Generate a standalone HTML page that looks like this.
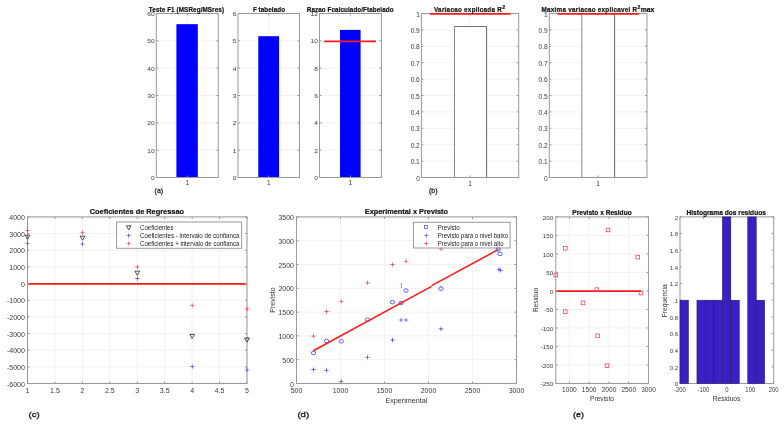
<!DOCTYPE html><html><head><meta charset="utf-8"><style>html,body{margin:0;padding:0;background:#fff;width:784px;height:425px;overflow:hidden}svg{display:block;filter:blur(0.25px)}</style></head><body>
<svg width="784" height="425" viewBox="0 0 784 425" font-family="Liberation Sans">
<rect width="784" height="425" fill="#fff"/>
<line x1="156.3" y1="177.5" x2="218.3" y2="177.5" stroke="#f2f2f2" stroke-width="1" />
<line x1="156.3" y1="150.17" x2="218.3" y2="150.17" stroke="#f2f2f2" stroke-width="1" />
<line x1="156.3" y1="122.83" x2="218.3" y2="122.83" stroke="#f2f2f2" stroke-width="1" />
<line x1="156.3" y1="95.5" x2="218.3" y2="95.5" stroke="#f2f2f2" stroke-width="1" />
<line x1="156.3" y1="68.17" x2="218.3" y2="68.17" stroke="#f2f2f2" stroke-width="1" />
<line x1="156.3" y1="40.83" x2="218.3" y2="40.83" stroke="#f2f2f2" stroke-width="1" />
<line x1="156.3" y1="13.5" x2="218.3" y2="13.5" stroke="#f2f2f2" stroke-width="1" />
<line x1="187.3" y1="13.5" x2="187.3" y2="177.5" stroke="#f2f2f2" stroke-width="1" />
<rect x="176.4" y="24.16" width="21.4" height="153.34" fill="#0000ff" stroke="none" stroke-width="1" />
<line x1="156.3" y1="177.5" x2="158.3" y2="177.5" stroke="#999999" stroke-width="1" />
<line x1="218.3" y1="177.5" x2="216.3" y2="177.5" stroke="#999999" stroke-width="1" />
<line x1="156.3" y1="150.17" x2="158.3" y2="150.17" stroke="#999999" stroke-width="1" />
<line x1="218.3" y1="150.17" x2="216.3" y2="150.17" stroke="#999999" stroke-width="1" />
<line x1="156.3" y1="122.83" x2="158.3" y2="122.83" stroke="#999999" stroke-width="1" />
<line x1="218.3" y1="122.83" x2="216.3" y2="122.83" stroke="#999999" stroke-width="1" />
<line x1="156.3" y1="95.5" x2="158.3" y2="95.5" stroke="#999999" stroke-width="1" />
<line x1="218.3" y1="95.5" x2="216.3" y2="95.5" stroke="#999999" stroke-width="1" />
<line x1="156.3" y1="68.17" x2="158.3" y2="68.17" stroke="#999999" stroke-width="1" />
<line x1="218.3" y1="68.17" x2="216.3" y2="68.17" stroke="#999999" stroke-width="1" />
<line x1="156.3" y1="40.83" x2="158.3" y2="40.83" stroke="#999999" stroke-width="1" />
<line x1="218.3" y1="40.83" x2="216.3" y2="40.83" stroke="#999999" stroke-width="1" />
<line x1="156.3" y1="13.5" x2="158.3" y2="13.5" stroke="#999999" stroke-width="1" />
<line x1="218.3" y1="13.5" x2="216.3" y2="13.5" stroke="#999999" stroke-width="1" />
<line x1="187.3" y1="177.5" x2="187.3" y2="175.5" stroke="#999999" stroke-width="1" />
<line x1="187.3" y1="13.5" x2="187.3" y2="15.5" stroke="#999999" stroke-width="1" />
<rect x="156.3" y="13.5" width="62" height="164" fill="none" stroke="#999999" stroke-width="1" />
<text x="154.7" y="180.1" font-size="5.9" text-anchor="end" font-weight="normal" fill="#3a3a3a" font-family="Liberation Sans" textLength="3.67" lengthAdjust="spacingAndGlyphs">0</text>
<text x="154.7" y="152.77" font-size="5.9" text-anchor="end" font-weight="normal" fill="#3a3a3a" font-family="Liberation Sans" textLength="7.34" lengthAdjust="spacingAndGlyphs">10</text>
<text x="154.7" y="125.43" font-size="5.9" text-anchor="end" font-weight="normal" fill="#3a3a3a" font-family="Liberation Sans" textLength="7.34" lengthAdjust="spacingAndGlyphs">20</text>
<text x="154.7" y="98.1" font-size="5.9" text-anchor="end" font-weight="normal" fill="#3a3a3a" font-family="Liberation Sans" textLength="7.34" lengthAdjust="spacingAndGlyphs">30</text>
<text x="154.7" y="70.77" font-size="5.9" text-anchor="end" font-weight="normal" fill="#3a3a3a" font-family="Liberation Sans" textLength="7.34" lengthAdjust="spacingAndGlyphs">40</text>
<text x="154.7" y="43.43" font-size="5.9" text-anchor="end" font-weight="normal" fill="#3a3a3a" font-family="Liberation Sans" textLength="7.34" lengthAdjust="spacingAndGlyphs">50</text>
<text x="154.7" y="16.1" font-size="5.9" text-anchor="end" font-weight="normal" fill="#3a3a3a" font-family="Liberation Sans" textLength="7.34" lengthAdjust="spacingAndGlyphs">60</text>
<text x="187.3" y="185.3" font-size="6.6" text-anchor="middle" font-weight="normal" fill="#3a3a3a" font-family="Liberation Sans" >1</text>
<text x="186.4" y="11.7" font-size="6.3" text-anchor="middle" font-weight="bold" fill="#111" font-family="Liberation Sans" textLength="75.2" lengthAdjust="spacing" stroke="#111" stroke-width="0.2">Teste F1 (MSReg/MSres)</text>
<line x1="238" y1="177.5" x2="299.5" y2="177.5" stroke="#f2f2f2" stroke-width="1" />
<line x1="238" y1="150.17" x2="299.5" y2="150.17" stroke="#f2f2f2" stroke-width="1" />
<line x1="238" y1="122.83" x2="299.5" y2="122.83" stroke="#f2f2f2" stroke-width="1" />
<line x1="238" y1="95.5" x2="299.5" y2="95.5" stroke="#f2f2f2" stroke-width="1" />
<line x1="238" y1="68.17" x2="299.5" y2="68.17" stroke="#f2f2f2" stroke-width="1" />
<line x1="238" y1="40.83" x2="299.5" y2="40.83" stroke="#f2f2f2" stroke-width="1" />
<line x1="238" y1="13.5" x2="299.5" y2="13.5" stroke="#f2f2f2" stroke-width="1" />
<line x1="268.75" y1="13.5" x2="268.75" y2="177.5" stroke="#f2f2f2" stroke-width="1" />
<rect x="258.3" y="36.19" width="20.8" height="141.31" fill="#0000ff" stroke="none" stroke-width="1" />
<line x1="238" y1="177.5" x2="240" y2="177.5" stroke="#999999" stroke-width="1" />
<line x1="299.5" y1="177.5" x2="297.5" y2="177.5" stroke="#999999" stroke-width="1" />
<line x1="238" y1="150.17" x2="240" y2="150.17" stroke="#999999" stroke-width="1" />
<line x1="299.5" y1="150.17" x2="297.5" y2="150.17" stroke="#999999" stroke-width="1" />
<line x1="238" y1="122.83" x2="240" y2="122.83" stroke="#999999" stroke-width="1" />
<line x1="299.5" y1="122.83" x2="297.5" y2="122.83" stroke="#999999" stroke-width="1" />
<line x1="238" y1="95.5" x2="240" y2="95.5" stroke="#999999" stroke-width="1" />
<line x1="299.5" y1="95.5" x2="297.5" y2="95.5" stroke="#999999" stroke-width="1" />
<line x1="238" y1="68.17" x2="240" y2="68.17" stroke="#999999" stroke-width="1" />
<line x1="299.5" y1="68.17" x2="297.5" y2="68.17" stroke="#999999" stroke-width="1" />
<line x1="238" y1="40.83" x2="240" y2="40.83" stroke="#999999" stroke-width="1" />
<line x1="299.5" y1="40.83" x2="297.5" y2="40.83" stroke="#999999" stroke-width="1" />
<line x1="238" y1="13.5" x2="240" y2="13.5" stroke="#999999" stroke-width="1" />
<line x1="299.5" y1="13.5" x2="297.5" y2="13.5" stroke="#999999" stroke-width="1" />
<line x1="268.75" y1="177.5" x2="268.75" y2="175.5" stroke="#999999" stroke-width="1" />
<line x1="268.75" y1="13.5" x2="268.75" y2="15.5" stroke="#999999" stroke-width="1" />
<rect x="238" y="13.5" width="61.5" height="164" fill="none" stroke="#999999" stroke-width="1" />
<text x="236.4" y="180.1" font-size="5.9" text-anchor="end" font-weight="normal" fill="#3a3a3a" font-family="Liberation Sans" textLength="3.67" lengthAdjust="spacingAndGlyphs">0</text>
<text x="236.4" y="152.77" font-size="5.9" text-anchor="end" font-weight="normal" fill="#3a3a3a" font-family="Liberation Sans" textLength="3.67" lengthAdjust="spacingAndGlyphs">1</text>
<text x="236.4" y="125.43" font-size="5.9" text-anchor="end" font-weight="normal" fill="#3a3a3a" font-family="Liberation Sans" textLength="3.67" lengthAdjust="spacingAndGlyphs">2</text>
<text x="236.4" y="98.1" font-size="5.9" text-anchor="end" font-weight="normal" fill="#3a3a3a" font-family="Liberation Sans" textLength="3.67" lengthAdjust="spacingAndGlyphs">3</text>
<text x="236.4" y="70.77" font-size="5.9" text-anchor="end" font-weight="normal" fill="#3a3a3a" font-family="Liberation Sans" textLength="3.67" lengthAdjust="spacingAndGlyphs">4</text>
<text x="236.4" y="43.43" font-size="5.9" text-anchor="end" font-weight="normal" fill="#3a3a3a" font-family="Liberation Sans" textLength="3.67" lengthAdjust="spacingAndGlyphs">5</text>
<text x="236.4" y="16.1" font-size="5.9" text-anchor="end" font-weight="normal" fill="#3a3a3a" font-family="Liberation Sans" textLength="3.67" lengthAdjust="spacingAndGlyphs">6</text>
<text x="268.75" y="185.3" font-size="6.6" text-anchor="middle" font-weight="normal" fill="#3a3a3a" font-family="Liberation Sans" >1</text>
<text x="268.95" y="11.7" font-size="6.3" text-anchor="middle" font-weight="bold" fill="#111" font-family="Liberation Sans" textLength="32.1" lengthAdjust="spacing" stroke="#111" stroke-width="0.2">F tabelado</text>
<line x1="319.5" y1="177.5" x2="381.4" y2="177.5" stroke="#f2f2f2" stroke-width="1" />
<line x1="319.5" y1="150.17" x2="381.4" y2="150.17" stroke="#f2f2f2" stroke-width="1" />
<line x1="319.5" y1="122.83" x2="381.4" y2="122.83" stroke="#f2f2f2" stroke-width="1" />
<line x1="319.5" y1="95.5" x2="381.4" y2="95.5" stroke="#f2f2f2" stroke-width="1" />
<line x1="319.5" y1="68.17" x2="381.4" y2="68.17" stroke="#f2f2f2" stroke-width="1" />
<line x1="319.5" y1="40.83" x2="381.4" y2="40.83" stroke="#f2f2f2" stroke-width="1" />
<line x1="319.5" y1="13.5" x2="381.4" y2="13.5" stroke="#f2f2f2" stroke-width="1" />
<line x1="350.45" y1="13.5" x2="350.45" y2="177.5" stroke="#f2f2f2" stroke-width="1" />
<rect x="340" y="29.9" width="20.6" height="147.6" fill="#0000ff" stroke="none" stroke-width="1" />
<line x1="319.5" y1="177.5" x2="321.5" y2="177.5" stroke="#999999" stroke-width="1" />
<line x1="381.4" y1="177.5" x2="379.4" y2="177.5" stroke="#999999" stroke-width="1" />
<line x1="319.5" y1="150.17" x2="321.5" y2="150.17" stroke="#999999" stroke-width="1" />
<line x1="381.4" y1="150.17" x2="379.4" y2="150.17" stroke="#999999" stroke-width="1" />
<line x1="319.5" y1="122.83" x2="321.5" y2="122.83" stroke="#999999" stroke-width="1" />
<line x1="381.4" y1="122.83" x2="379.4" y2="122.83" stroke="#999999" stroke-width="1" />
<line x1="319.5" y1="95.5" x2="321.5" y2="95.5" stroke="#999999" stroke-width="1" />
<line x1="381.4" y1="95.5" x2="379.4" y2="95.5" stroke="#999999" stroke-width="1" />
<line x1="319.5" y1="68.17" x2="321.5" y2="68.17" stroke="#999999" stroke-width="1" />
<line x1="381.4" y1="68.17" x2="379.4" y2="68.17" stroke="#999999" stroke-width="1" />
<line x1="319.5" y1="40.83" x2="321.5" y2="40.83" stroke="#999999" stroke-width="1" />
<line x1="381.4" y1="40.83" x2="379.4" y2="40.83" stroke="#999999" stroke-width="1" />
<line x1="319.5" y1="13.5" x2="321.5" y2="13.5" stroke="#999999" stroke-width="1" />
<line x1="381.4" y1="13.5" x2="379.4" y2="13.5" stroke="#999999" stroke-width="1" />
<line x1="350.45" y1="177.5" x2="350.45" y2="175.5" stroke="#999999" stroke-width="1" />
<line x1="350.45" y1="13.5" x2="350.45" y2="15.5" stroke="#999999" stroke-width="1" />
<rect x="319.5" y="13.5" width="61.9" height="164" fill="none" stroke="#999999" stroke-width="1" />
<line x1="324.2" y1="41.33" x2="375.9" y2="41.33" stroke="#ff1a1a" stroke-width="1.8" />
<text x="317.9" y="180.1" font-size="5.9" text-anchor="end" font-weight="normal" fill="#3a3a3a" font-family="Liberation Sans" textLength="3.67" lengthAdjust="spacingAndGlyphs">0</text>
<text x="317.9" y="152.77" font-size="5.9" text-anchor="end" font-weight="normal" fill="#3a3a3a" font-family="Liberation Sans" textLength="3.67" lengthAdjust="spacingAndGlyphs">2</text>
<text x="317.9" y="125.43" font-size="5.9" text-anchor="end" font-weight="normal" fill="#3a3a3a" font-family="Liberation Sans" textLength="3.67" lengthAdjust="spacingAndGlyphs">4</text>
<text x="317.9" y="98.1" font-size="5.9" text-anchor="end" font-weight="normal" fill="#3a3a3a" font-family="Liberation Sans" textLength="3.67" lengthAdjust="spacingAndGlyphs">6</text>
<text x="317.9" y="70.77" font-size="5.9" text-anchor="end" font-weight="normal" fill="#3a3a3a" font-family="Liberation Sans" textLength="3.67" lengthAdjust="spacingAndGlyphs">8</text>
<text x="317.9" y="43.43" font-size="5.9" text-anchor="end" font-weight="normal" fill="#3a3a3a" font-family="Liberation Sans" textLength="7.34" lengthAdjust="spacingAndGlyphs">10</text>
<text x="317.9" y="16.1" font-size="5.9" text-anchor="end" font-weight="normal" fill="#3a3a3a" font-family="Liberation Sans" textLength="7.34" lengthAdjust="spacingAndGlyphs">12</text>
<text x="350.45" y="185.3" font-size="6.6" text-anchor="middle" font-weight="normal" fill="#3a3a3a" font-family="Liberation Sans" >1</text>
<text x="350.15" y="11.7" font-size="6.3" text-anchor="middle" font-weight="bold" fill="#111" font-family="Liberation Sans" textLength="86.7" lengthAdjust="spacing" stroke="#111" stroke-width="0.2">Razao Fcalculado/Ftabelado</text>
<text x="158.9" y="193" font-size="7" text-anchor="middle" font-weight="normal" fill="#222" font-family="Liberation Sans" stroke="#222" stroke-width="0.25">(a)</text>
<line x1="421.4" y1="177.5" x2="518.7" y2="177.5" stroke="#f2f2f2" stroke-width="1" />
<line x1="421.4" y1="161.1" x2="518.7" y2="161.1" stroke="#f2f2f2" stroke-width="1" />
<line x1="421.4" y1="144.7" x2="518.7" y2="144.7" stroke="#f2f2f2" stroke-width="1" />
<line x1="421.4" y1="128.3" x2="518.7" y2="128.3" stroke="#f2f2f2" stroke-width="1" />
<line x1="421.4" y1="111.9" x2="518.7" y2="111.9" stroke="#f2f2f2" stroke-width="1" />
<line x1="421.4" y1="95.5" x2="518.7" y2="95.5" stroke="#f2f2f2" stroke-width="1" />
<line x1="421.4" y1="79.1" x2="518.7" y2="79.1" stroke="#f2f2f2" stroke-width="1" />
<line x1="421.4" y1="62.7" x2="518.7" y2="62.7" stroke="#f2f2f2" stroke-width="1" />
<line x1="421.4" y1="46.3" x2="518.7" y2="46.3" stroke="#f2f2f2" stroke-width="1" />
<line x1="421.4" y1="29.9" x2="518.7" y2="29.9" stroke="#f2f2f2" stroke-width="1" />
<line x1="421.4" y1="13.5" x2="518.7" y2="13.5" stroke="#f2f2f2" stroke-width="1" />
<line x1="470.05" y1="13.5" x2="470.05" y2="177.5" stroke="#f2f2f2" stroke-width="1" />
<rect x="454.5" y="26.51" width="32.1" height="150.99" fill="#fff" stroke="none" stroke-width="1" />
<line x1="454.5" y1="26.51" x2="486.6" y2="26.51" stroke="#707070" stroke-width="1" />
<line x1="454.5" y1="26.51" x2="454.5" y2="177.5" stroke="#8a8a8a" stroke-width="1" />
<line x1="486.6" y1="26.51" x2="486.6" y2="177.5" stroke="#666" stroke-width="1" />
<line x1="421.4" y1="177.5" x2="423.4" y2="177.5" stroke="#999999" stroke-width="1" />
<line x1="518.7" y1="177.5" x2="516.7" y2="177.5" stroke="#999999" stroke-width="1" />
<line x1="421.4" y1="161.1" x2="423.4" y2="161.1" stroke="#999999" stroke-width="1" />
<line x1="518.7" y1="161.1" x2="516.7" y2="161.1" stroke="#999999" stroke-width="1" />
<line x1="421.4" y1="144.7" x2="423.4" y2="144.7" stroke="#999999" stroke-width="1" />
<line x1="518.7" y1="144.7" x2="516.7" y2="144.7" stroke="#999999" stroke-width="1" />
<line x1="421.4" y1="128.3" x2="423.4" y2="128.3" stroke="#999999" stroke-width="1" />
<line x1="518.7" y1="128.3" x2="516.7" y2="128.3" stroke="#999999" stroke-width="1" />
<line x1="421.4" y1="111.9" x2="423.4" y2="111.9" stroke="#999999" stroke-width="1" />
<line x1="518.7" y1="111.9" x2="516.7" y2="111.9" stroke="#999999" stroke-width="1" />
<line x1="421.4" y1="95.5" x2="423.4" y2="95.5" stroke="#999999" stroke-width="1" />
<line x1="518.7" y1="95.5" x2="516.7" y2="95.5" stroke="#999999" stroke-width="1" />
<line x1="421.4" y1="79.1" x2="423.4" y2="79.1" stroke="#999999" stroke-width="1" />
<line x1="518.7" y1="79.1" x2="516.7" y2="79.1" stroke="#999999" stroke-width="1" />
<line x1="421.4" y1="62.7" x2="423.4" y2="62.7" stroke="#999999" stroke-width="1" />
<line x1="518.7" y1="62.7" x2="516.7" y2="62.7" stroke="#999999" stroke-width="1" />
<line x1="421.4" y1="46.3" x2="423.4" y2="46.3" stroke="#999999" stroke-width="1" />
<line x1="518.7" y1="46.3" x2="516.7" y2="46.3" stroke="#999999" stroke-width="1" />
<line x1="421.4" y1="29.9" x2="423.4" y2="29.9" stroke="#999999" stroke-width="1" />
<line x1="518.7" y1="29.9" x2="516.7" y2="29.9" stroke="#999999" stroke-width="1" />
<line x1="421.4" y1="13.5" x2="423.4" y2="13.5" stroke="#999999" stroke-width="1" />
<line x1="518.7" y1="13.5" x2="516.7" y2="13.5" stroke="#999999" stroke-width="1" />
<line x1="470.05" y1="177.5" x2="470.05" y2="175.5" stroke="#999999" stroke-width="1" />
<line x1="470.05" y1="13.5" x2="470.05" y2="15.5" stroke="#999999" stroke-width="1" />
<rect x="421.4" y="13.5" width="97.3" height="164" fill="none" stroke="#999999" stroke-width="1" />
<line x1="429.8" y1="13.9" x2="510.5" y2="13.9" stroke="#ff1a1a" stroke-width="1.7" />
<text x="419.8" y="180.5" font-size="6.6" text-anchor="end" font-weight="normal" fill="#3a3a3a" font-family="Liberation Sans" >0</text>
<text x="419.8" y="164.1" font-size="6.6" text-anchor="end" font-weight="normal" fill="#3a3a3a" font-family="Liberation Sans" >0.1</text>
<text x="419.8" y="147.7" font-size="6.6" text-anchor="end" font-weight="normal" fill="#3a3a3a" font-family="Liberation Sans" >0.2</text>
<text x="419.8" y="131.3" font-size="6.6" text-anchor="end" font-weight="normal" fill="#3a3a3a" font-family="Liberation Sans" >0.3</text>
<text x="419.8" y="114.9" font-size="6.6" text-anchor="end" font-weight="normal" fill="#3a3a3a" font-family="Liberation Sans" >0.4</text>
<text x="419.8" y="98.5" font-size="6.6" text-anchor="end" font-weight="normal" fill="#3a3a3a" font-family="Liberation Sans" >0.5</text>
<text x="419.8" y="82.1" font-size="6.6" text-anchor="end" font-weight="normal" fill="#3a3a3a" font-family="Liberation Sans" >0.6</text>
<text x="419.8" y="65.7" font-size="6.6" text-anchor="end" font-weight="normal" fill="#3a3a3a" font-family="Liberation Sans" >0.7</text>
<text x="419.8" y="49.3" font-size="6.6" text-anchor="end" font-weight="normal" fill="#3a3a3a" font-family="Liberation Sans" >0.8</text>
<text x="419.8" y="32.9" font-size="6.6" text-anchor="end" font-weight="normal" fill="#3a3a3a" font-family="Liberation Sans" >0.9</text>
<text x="419.8" y="16.5" font-size="6.6" text-anchor="end" font-weight="normal" fill="#3a3a3a" font-family="Liberation Sans" >1</text>
<text x="470.05" y="186.2" font-size="6.6" text-anchor="middle" font-weight="normal" fill="#3a3a3a" font-family="Liberation Sans" >1</text>
<line x1="549.3" y1="177.5" x2="647" y2="177.5" stroke="#f2f2f2" stroke-width="1" />
<line x1="549.3" y1="161.1" x2="647" y2="161.1" stroke="#f2f2f2" stroke-width="1" />
<line x1="549.3" y1="144.7" x2="647" y2="144.7" stroke="#f2f2f2" stroke-width="1" />
<line x1="549.3" y1="128.3" x2="647" y2="128.3" stroke="#f2f2f2" stroke-width="1" />
<line x1="549.3" y1="111.9" x2="647" y2="111.9" stroke="#f2f2f2" stroke-width="1" />
<line x1="549.3" y1="95.5" x2="647" y2="95.5" stroke="#f2f2f2" stroke-width="1" />
<line x1="549.3" y1="79.1" x2="647" y2="79.1" stroke="#f2f2f2" stroke-width="1" />
<line x1="549.3" y1="62.7" x2="647" y2="62.7" stroke="#f2f2f2" stroke-width="1" />
<line x1="549.3" y1="46.3" x2="647" y2="46.3" stroke="#f2f2f2" stroke-width="1" />
<line x1="549.3" y1="29.9" x2="647" y2="29.9" stroke="#f2f2f2" stroke-width="1" />
<line x1="549.3" y1="13.5" x2="647" y2="13.5" stroke="#f2f2f2" stroke-width="1" />
<line x1="598.15" y1="13.5" x2="598.15" y2="177.5" stroke="#f2f2f2" stroke-width="1" />
<rect x="581.8" y="13.5" width="32.8" height="164" fill="#fff" stroke="none" stroke-width="1" />
<line x1="581.8" y1="13.5" x2="614.6" y2="13.5" stroke="#707070" stroke-width="1" />
<line x1="581.8" y1="13.5" x2="581.8" y2="177.5" stroke="#8a8a8a" stroke-width="1" />
<line x1="614.6" y1="13.5" x2="614.6" y2="177.5" stroke="#666" stroke-width="1" />
<line x1="549.3" y1="177.5" x2="551.3" y2="177.5" stroke="#999999" stroke-width="1" />
<line x1="647" y1="177.5" x2="645" y2="177.5" stroke="#999999" stroke-width="1" />
<line x1="549.3" y1="161.1" x2="551.3" y2="161.1" stroke="#999999" stroke-width="1" />
<line x1="647" y1="161.1" x2="645" y2="161.1" stroke="#999999" stroke-width="1" />
<line x1="549.3" y1="144.7" x2="551.3" y2="144.7" stroke="#999999" stroke-width="1" />
<line x1="647" y1="144.7" x2="645" y2="144.7" stroke="#999999" stroke-width="1" />
<line x1="549.3" y1="128.3" x2="551.3" y2="128.3" stroke="#999999" stroke-width="1" />
<line x1="647" y1="128.3" x2="645" y2="128.3" stroke="#999999" stroke-width="1" />
<line x1="549.3" y1="111.9" x2="551.3" y2="111.9" stroke="#999999" stroke-width="1" />
<line x1="647" y1="111.9" x2="645" y2="111.9" stroke="#999999" stroke-width="1" />
<line x1="549.3" y1="95.5" x2="551.3" y2="95.5" stroke="#999999" stroke-width="1" />
<line x1="647" y1="95.5" x2="645" y2="95.5" stroke="#999999" stroke-width="1" />
<line x1="549.3" y1="79.1" x2="551.3" y2="79.1" stroke="#999999" stroke-width="1" />
<line x1="647" y1="79.1" x2="645" y2="79.1" stroke="#999999" stroke-width="1" />
<line x1="549.3" y1="62.7" x2="551.3" y2="62.7" stroke="#999999" stroke-width="1" />
<line x1="647" y1="62.7" x2="645" y2="62.7" stroke="#999999" stroke-width="1" />
<line x1="549.3" y1="46.3" x2="551.3" y2="46.3" stroke="#999999" stroke-width="1" />
<line x1="647" y1="46.3" x2="645" y2="46.3" stroke="#999999" stroke-width="1" />
<line x1="549.3" y1="29.9" x2="551.3" y2="29.9" stroke="#999999" stroke-width="1" />
<line x1="647" y1="29.9" x2="645" y2="29.9" stroke="#999999" stroke-width="1" />
<line x1="549.3" y1="13.5" x2="551.3" y2="13.5" stroke="#999999" stroke-width="1" />
<line x1="647" y1="13.5" x2="645" y2="13.5" stroke="#999999" stroke-width="1" />
<line x1="598.15" y1="177.5" x2="598.15" y2="175.5" stroke="#999999" stroke-width="1" />
<line x1="598.15" y1="13.5" x2="598.15" y2="15.5" stroke="#999999" stroke-width="1" />
<rect x="549.3" y="13.5" width="97.7" height="164" fill="none" stroke="#999999" stroke-width="1" />
<line x1="557.4" y1="13.9" x2="638.8" y2="13.9" stroke="#ff1a1a" stroke-width="1.7" />
<text x="547.7" y="180.5" font-size="6.6" text-anchor="end" font-weight="normal" fill="#3a3a3a" font-family="Liberation Sans" >0</text>
<text x="547.7" y="164.1" font-size="6.6" text-anchor="end" font-weight="normal" fill="#3a3a3a" font-family="Liberation Sans" >0.1</text>
<text x="547.7" y="147.7" font-size="6.6" text-anchor="end" font-weight="normal" fill="#3a3a3a" font-family="Liberation Sans" >0.2</text>
<text x="547.7" y="131.3" font-size="6.6" text-anchor="end" font-weight="normal" fill="#3a3a3a" font-family="Liberation Sans" >0.3</text>
<text x="547.7" y="114.9" font-size="6.6" text-anchor="end" font-weight="normal" fill="#3a3a3a" font-family="Liberation Sans" >0.4</text>
<text x="547.7" y="98.5" font-size="6.6" text-anchor="end" font-weight="normal" fill="#3a3a3a" font-family="Liberation Sans" >0.5</text>
<text x="547.7" y="82.1" font-size="6.6" text-anchor="end" font-weight="normal" fill="#3a3a3a" font-family="Liberation Sans" >0.6</text>
<text x="547.7" y="65.7" font-size="6.6" text-anchor="end" font-weight="normal" fill="#3a3a3a" font-family="Liberation Sans" >0.7</text>
<text x="547.7" y="49.3" font-size="6.6" text-anchor="end" font-weight="normal" fill="#3a3a3a" font-family="Liberation Sans" >0.8</text>
<text x="547.7" y="32.9" font-size="6.6" text-anchor="end" font-weight="normal" fill="#3a3a3a" font-family="Liberation Sans" >0.9</text>
<text x="547.7" y="16.5" font-size="6.6" text-anchor="end" font-weight="normal" fill="#3a3a3a" font-family="Liberation Sans" >1</text>
<text x="598.15" y="186.2" font-size="6.6" text-anchor="middle" font-weight="normal" fill="#3a3a3a" font-family="Liberation Sans" >1</text>
<text x="434" y="11.7" font-size="6.3" text-anchor="start" font-weight="bold" fill="#111" font-family="Liberation Sans" textLength="67.8" lengthAdjust="spacing" stroke="#111" stroke-width="0.2">Variacao explicada R</text>
<text x="502.2" y="8.6" font-size="5.2" text-anchor="start" font-weight="bold" fill="#111" font-family="Liberation Sans"  stroke="#111" stroke-width="0.2">2</text>
<text x="541.6" y="11.7" font-size="6.3" text-anchor="start" font-weight="bold" fill="#111" font-family="Liberation Sans" textLength="95.4" lengthAdjust="spacing" stroke="#111" stroke-width="0.2">Maxima variacao explicavel R</text>
<text x="637.5" y="8.6" font-size="5.2" text-anchor="start" font-weight="bold" fill="#111" font-family="Liberation Sans"  stroke="#111" stroke-width="0.2">2</text>
<text x="640.8" y="11.7" font-size="6.3" text-anchor="start" font-weight="bold" fill="#111" font-family="Liberation Sans" textLength="13.6" lengthAdjust="spacingAndGlyphs" stroke="#111" stroke-width="0.2">max</text>
<text x="433.3" y="193.3" font-size="7" text-anchor="middle" font-weight="normal" fill="#222" font-family="Liberation Sans" stroke="#222" stroke-width="0.25">(b)</text>
<line x1="27.5" y1="383.5" x2="247" y2="383.5" stroke="#f2f2f2" stroke-width="1" />
<line x1="27.5" y1="366.84" x2="247" y2="366.84" stroke="#f2f2f2" stroke-width="1" />
<line x1="27.5" y1="350.18" x2="247" y2="350.18" stroke="#f2f2f2" stroke-width="1" />
<line x1="27.5" y1="333.52" x2="247" y2="333.52" stroke="#f2f2f2" stroke-width="1" />
<line x1="27.5" y1="316.86" x2="247" y2="316.86" stroke="#f2f2f2" stroke-width="1" />
<line x1="27.5" y1="300.2" x2="247" y2="300.2" stroke="#f2f2f2" stroke-width="1" />
<line x1="27.5" y1="283.54" x2="247" y2="283.54" stroke="#f2f2f2" stroke-width="1" />
<line x1="27.5" y1="266.88" x2="247" y2="266.88" stroke="#f2f2f2" stroke-width="1" />
<line x1="27.5" y1="250.22" x2="247" y2="250.22" stroke="#f2f2f2" stroke-width="1" />
<line x1="27.5" y1="233.56" x2="247" y2="233.56" stroke="#f2f2f2" stroke-width="1" />
<line x1="27.5" y1="216.9" x2="247" y2="216.9" stroke="#f2f2f2" stroke-width="1" />
<line x1="27.5" y1="216.9" x2="27.5" y2="383.5" stroke="#f2f2f2" stroke-width="1" />
<line x1="54.94" y1="216.9" x2="54.94" y2="383.5" stroke="#f2f2f2" stroke-width="1" />
<line x1="82.38" y1="216.9" x2="82.38" y2="383.5" stroke="#f2f2f2" stroke-width="1" />
<line x1="109.81" y1="216.9" x2="109.81" y2="383.5" stroke="#f2f2f2" stroke-width="1" />
<line x1="137.25" y1="216.9" x2="137.25" y2="383.5" stroke="#f2f2f2" stroke-width="1" />
<line x1="164.69" y1="216.9" x2="164.69" y2="383.5" stroke="#f2f2f2" stroke-width="1" />
<line x1="192.12" y1="216.9" x2="192.12" y2="383.5" stroke="#f2f2f2" stroke-width="1" />
<line x1="219.56" y1="216.9" x2="219.56" y2="383.5" stroke="#f2f2f2" stroke-width="1" />
<line x1="247" y1="216.9" x2="247" y2="383.5" stroke="#f2f2f2" stroke-width="1" />
<line x1="27.5" y1="283.8" x2="247" y2="283.8" stroke="#ff1a1a" stroke-width="1.7" />
<line x1="27.5" y1="383.5" x2="29.5" y2="383.5" stroke="#999999" stroke-width="1" />
<line x1="247" y1="383.5" x2="245" y2="383.5" stroke="#999999" stroke-width="1" />
<line x1="27.5" y1="366.84" x2="29.5" y2="366.84" stroke="#999999" stroke-width="1" />
<line x1="247" y1="366.84" x2="245" y2="366.84" stroke="#999999" stroke-width="1" />
<line x1="27.5" y1="350.18" x2="29.5" y2="350.18" stroke="#999999" stroke-width="1" />
<line x1="247" y1="350.18" x2="245" y2="350.18" stroke="#999999" stroke-width="1" />
<line x1="27.5" y1="333.52" x2="29.5" y2="333.52" stroke="#999999" stroke-width="1" />
<line x1="247" y1="333.52" x2="245" y2="333.52" stroke="#999999" stroke-width="1" />
<line x1="27.5" y1="316.86" x2="29.5" y2="316.86" stroke="#999999" stroke-width="1" />
<line x1="247" y1="316.86" x2="245" y2="316.86" stroke="#999999" stroke-width="1" />
<line x1="27.5" y1="300.2" x2="29.5" y2="300.2" stroke="#999999" stroke-width="1" />
<line x1="247" y1="300.2" x2="245" y2="300.2" stroke="#999999" stroke-width="1" />
<line x1="27.5" y1="283.54" x2="29.5" y2="283.54" stroke="#999999" stroke-width="1" />
<line x1="247" y1="283.54" x2="245" y2="283.54" stroke="#999999" stroke-width="1" />
<line x1="27.5" y1="266.88" x2="29.5" y2="266.88" stroke="#999999" stroke-width="1" />
<line x1="247" y1="266.88" x2="245" y2="266.88" stroke="#999999" stroke-width="1" />
<line x1="27.5" y1="250.22" x2="29.5" y2="250.22" stroke="#999999" stroke-width="1" />
<line x1="247" y1="250.22" x2="245" y2="250.22" stroke="#999999" stroke-width="1" />
<line x1="27.5" y1="233.56" x2="29.5" y2="233.56" stroke="#999999" stroke-width="1" />
<line x1="247" y1="233.56" x2="245" y2="233.56" stroke="#999999" stroke-width="1" />
<line x1="27.5" y1="216.9" x2="29.5" y2="216.9" stroke="#999999" stroke-width="1" />
<line x1="247" y1="216.9" x2="245" y2="216.9" stroke="#999999" stroke-width="1" />
<line x1="27.5" y1="383.5" x2="27.5" y2="381.5" stroke="#999999" stroke-width="1" />
<line x1="27.5" y1="216.9" x2="27.5" y2="218.9" stroke="#999999" stroke-width="1" />
<line x1="54.94" y1="383.5" x2="54.94" y2="381.5" stroke="#999999" stroke-width="1" />
<line x1="54.94" y1="216.9" x2="54.94" y2="218.9" stroke="#999999" stroke-width="1" />
<line x1="82.38" y1="383.5" x2="82.38" y2="381.5" stroke="#999999" stroke-width="1" />
<line x1="82.38" y1="216.9" x2="82.38" y2="218.9" stroke="#999999" stroke-width="1" />
<line x1="109.81" y1="383.5" x2="109.81" y2="381.5" stroke="#999999" stroke-width="1" />
<line x1="109.81" y1="216.9" x2="109.81" y2="218.9" stroke="#999999" stroke-width="1" />
<line x1="137.25" y1="383.5" x2="137.25" y2="381.5" stroke="#999999" stroke-width="1" />
<line x1="137.25" y1="216.9" x2="137.25" y2="218.9" stroke="#999999" stroke-width="1" />
<line x1="164.69" y1="383.5" x2="164.69" y2="381.5" stroke="#999999" stroke-width="1" />
<line x1="164.69" y1="216.9" x2="164.69" y2="218.9" stroke="#999999" stroke-width="1" />
<line x1="192.12" y1="383.5" x2="192.12" y2="381.5" stroke="#999999" stroke-width="1" />
<line x1="192.12" y1="216.9" x2="192.12" y2="218.9" stroke="#999999" stroke-width="1" />
<line x1="219.56" y1="383.5" x2="219.56" y2="381.5" stroke="#999999" stroke-width="1" />
<line x1="219.56" y1="216.9" x2="219.56" y2="218.9" stroke="#999999" stroke-width="1" />
<line x1="247" y1="383.5" x2="247" y2="381.5" stroke="#999999" stroke-width="1" />
<line x1="247" y1="216.9" x2="247" y2="218.9" stroke="#999999" stroke-width="1" />
<rect x="27.5" y="216.9" width="219.5" height="166.6" fill="none" stroke="#999999" stroke-width="1" />
<path d="M24.4 230.4L27.5 229.85L30.6 230.4L27.5 230.95ZM27.5 227.3L28.05 230.4L27.5 233.5L26.95 230.4Z" fill="#f03a5a"/>
<path d="M25.1 235.2 L29.9 235.2 L27.5 239.28 Z" fill="none" stroke="#222" stroke-width="0.8"/>
<path d="M24.4 243.3L27.5 242.75L30.6 243.3L27.5 243.85ZM27.5 240.2L28.05 243.3L27.5 246.4L26.95 243.3Z" fill="#4040f0"/>
<path d="M79.4 232.7L82.5 232.15L85.6 232.7L82.5 233.25ZM82.5 229.6L83.05 232.7L82.5 235.8L81.95 232.7Z" fill="#f03a5a"/>
<path d="M80.1 236.2 L84.9 236.2 L82.5 240.28 Z" fill="none" stroke="#222" stroke-width="0.8"/>
<path d="M79.4 244L82.5 243.45L85.6 244L82.5 244.55ZM82.5 240.9L83.05 244L82.5 247.1L81.95 244Z" fill="#4040f0"/>
<path d="M134.2 266.9L137.3 266.35L140.4 266.9L137.3 267.45ZM137.3 263.8L137.85 266.9L137.3 270L136.75 266.9Z" fill="#f03a5a"/>
<path d="M134.9 271.2 L139.7 271.2 L137.3 275.28 Z" fill="none" stroke="#222" stroke-width="0.8"/>
<path d="M134.2 278.6L137.3 278.05L140.4 278.6L137.3 279.15ZM137.3 275.5L137.85 278.6L137.3 281.7L136.75 278.6Z" fill="#4040f0"/>
<path d="M189.1 305.5L192.2 304.95L195.3 305.5L192.2 306.05ZM192.2 302.4L192.75 305.5L192.2 308.6L191.65 305.5Z" fill="#f03a5a"/>
<path d="M189.8 334.4 L194.6 334.4 L192.2 338.48 Z" fill="none" stroke="#222" stroke-width="0.8"/>
<path d="M189.1 366.5L192.2 365.95L195.3 366.5L192.2 367.05ZM192.2 363.4L192.75 366.5L192.2 369.6L191.65 366.5Z" fill="#4040f0"/>
<path d="M243.9 308.9L247 308.35L250.1 308.9L247 309.45ZM247 305.8L247.55 308.9L247 312L246.45 308.9Z" fill="#f03a5a"/>
<path d="M244.6 338 L249.4 338 L247 342.08 Z" fill="none" stroke="#222" stroke-width="0.8"/>
<path d="M243.9 370L247 369.45L250.1 370L247 370.55ZM247 366.9L247.55 370L247 373.1L246.45 370Z" fill="#4040f0"/>
<text x="24.9" y="386.5" font-size="7.0" text-anchor="end" font-weight="normal" fill="#3a3a3a" font-family="Liberation Sans" >-6000</text>
<text x="24.9" y="369.84" font-size="7.0" text-anchor="end" font-weight="normal" fill="#3a3a3a" font-family="Liberation Sans" >-5000</text>
<text x="24.9" y="353.18" font-size="7.0" text-anchor="end" font-weight="normal" fill="#3a3a3a" font-family="Liberation Sans" >-4000</text>
<text x="24.9" y="336.52" font-size="7.0" text-anchor="end" font-weight="normal" fill="#3a3a3a" font-family="Liberation Sans" >-3000</text>
<text x="24.9" y="319.86" font-size="7.0" text-anchor="end" font-weight="normal" fill="#3a3a3a" font-family="Liberation Sans" >-2000</text>
<text x="24.9" y="303.2" font-size="7.0" text-anchor="end" font-weight="normal" fill="#3a3a3a" font-family="Liberation Sans" >-1000</text>
<text x="24.9" y="286.54" font-size="7.0" text-anchor="end" font-weight="normal" fill="#3a3a3a" font-family="Liberation Sans" >0</text>
<text x="24.9" y="269.88" font-size="7.0" text-anchor="end" font-weight="normal" fill="#3a3a3a" font-family="Liberation Sans" >1000</text>
<text x="24.9" y="253.22" font-size="7.0" text-anchor="end" font-weight="normal" fill="#3a3a3a" font-family="Liberation Sans" >2000</text>
<text x="24.9" y="236.56" font-size="7.0" text-anchor="end" font-weight="normal" fill="#3a3a3a" font-family="Liberation Sans" >3000</text>
<text x="24.9" y="219.9" font-size="7.0" text-anchor="end" font-weight="normal" fill="#3a3a3a" font-family="Liberation Sans" >4000</text>
<text x="27.5" y="393.2" font-size="7.0" text-anchor="middle" font-weight="normal" fill="#3a3a3a" font-family="Liberation Sans" >1</text>
<text x="54.94" y="393.2" font-size="7.0" text-anchor="middle" font-weight="normal" fill="#3a3a3a" font-family="Liberation Sans" >1.5</text>
<text x="82.38" y="393.2" font-size="7.0" text-anchor="middle" font-weight="normal" fill="#3a3a3a" font-family="Liberation Sans" >2</text>
<text x="109.81" y="393.2" font-size="7.0" text-anchor="middle" font-weight="normal" fill="#3a3a3a" font-family="Liberation Sans" >2.5</text>
<text x="137.25" y="393.2" font-size="7.0" text-anchor="middle" font-weight="normal" fill="#3a3a3a" font-family="Liberation Sans" >3</text>
<text x="164.69" y="393.2" font-size="7.0" text-anchor="middle" font-weight="normal" fill="#3a3a3a" font-family="Liberation Sans" >3.5</text>
<text x="192.12" y="393.2" font-size="7.0" text-anchor="middle" font-weight="normal" fill="#3a3a3a" font-family="Liberation Sans" >4</text>
<text x="219.56" y="393.2" font-size="7.0" text-anchor="middle" font-weight="normal" fill="#3a3a3a" font-family="Liberation Sans" >4.5</text>
<text x="247" y="393.2" font-size="7.0" text-anchor="middle" font-weight="normal" fill="#3a3a3a" font-family="Liberation Sans" >5</text>
<text x="136.9" y="213.6" font-size="7.2" text-anchor="middle" font-weight="bold" fill="#111" font-family="Liberation Sans" textLength="94.2" lengthAdjust="spacingAndGlyphs" stroke="#111" stroke-width="0.2">Coeficientes de Regressao</text>
<rect x="116.6" y="222" width="125" height="26.3" fill="#fff" stroke="#999999" stroke-width="1" />
<path d="M126.3 225.8 L131.1 225.8 L128.7 229.88 Z" fill="none" stroke="#222" stroke-width="0.8"/>
<path d="M125.6 235.5L128.7 234.95L131.8 235.5L128.7 236.05ZM128.7 232.4L129.25 235.5L128.7 238.6L128.15 235.5Z" fill="#4040f0"/>
<path d="M125.6 243.5L128.7 242.95L131.8 243.5L128.7 244.05ZM128.7 240.4L129.25 243.5L128.7 246.6L128.15 243.5Z" fill="#f03a5a"/>
<text x="140.1" y="230" font-size="6.8" text-anchor="start" font-weight="normal" fill="#222" font-family="Liberation Sans" textLength="33.4" lengthAdjust="spacingAndGlyphs">Coeficientes</text>
<text x="140.1" y="238" font-size="6.8" text-anchor="start" font-weight="normal" fill="#222" font-family="Liberation Sans" textLength="99.3" lengthAdjust="spacingAndGlyphs">Coeficientes - intervalo de confianca</text>
<text x="140.1" y="246" font-size="6.8" text-anchor="start" font-weight="normal" fill="#222" font-family="Liberation Sans" textLength="99.3" lengthAdjust="spacingAndGlyphs">Coeficientes + intervalo de confianca</text>
<text x="34.1" y="417.1" font-size="8.1" text-anchor="middle" font-weight="normal" fill="#222" font-family="Liberation Sans" stroke="#222" stroke-width="0.35" textLength="11.2" lengthAdjust="spacingAndGlyphs">(c)</text>
<line x1="296.5" y1="383.5" x2="516.5" y2="383.5" stroke="#f2f2f2" stroke-width="1" />
<line x1="296.5" y1="359.7" x2="516.5" y2="359.7" stroke="#f2f2f2" stroke-width="1" />
<line x1="296.5" y1="335.9" x2="516.5" y2="335.9" stroke="#f2f2f2" stroke-width="1" />
<line x1="296.5" y1="312.1" x2="516.5" y2="312.1" stroke="#f2f2f2" stroke-width="1" />
<line x1="296.5" y1="288.3" x2="516.5" y2="288.3" stroke="#f2f2f2" stroke-width="1" />
<line x1="296.5" y1="264.5" x2="516.5" y2="264.5" stroke="#f2f2f2" stroke-width="1" />
<line x1="296.5" y1="240.7" x2="516.5" y2="240.7" stroke="#f2f2f2" stroke-width="1" />
<line x1="296.5" y1="216.9" x2="516.5" y2="216.9" stroke="#f2f2f2" stroke-width="1" />
<line x1="296.5" y1="216.9" x2="296.5" y2="383.5" stroke="#f2f2f2" stroke-width="1" />
<line x1="340.5" y1="216.9" x2="340.5" y2="383.5" stroke="#f2f2f2" stroke-width="1" />
<line x1="384.5" y1="216.9" x2="384.5" y2="383.5" stroke="#f2f2f2" stroke-width="1" />
<line x1="428.5" y1="216.9" x2="428.5" y2="383.5" stroke="#f2f2f2" stroke-width="1" />
<line x1="472.5" y1="216.9" x2="472.5" y2="383.5" stroke="#f2f2f2" stroke-width="1" />
<line x1="516.5" y1="216.9" x2="516.5" y2="383.5" stroke="#f2f2f2" stroke-width="1" />
<path d="M310.3 336.1L313.4 335.55L316.5 336.1L313.4 336.65ZM313.4 333L313.95 336.1L313.4 339.2L312.85 336.1Z" fill="#f03a5a"/>
<path d="M323.5 311.6L326.6 311.05L329.7 311.6L326.6 312.15ZM326.6 308.5L327.15 311.6L326.6 314.7L326.05 311.6Z" fill="#f03a5a"/>
<path d="M338.1 301.3L341.2 300.75L344.3 301.3L341.2 301.85ZM341.2 298.2L341.75 301.3L341.2 304.4L340.65 301.3Z" fill="#f03a5a"/>
<path d="M364.4 282.9L367.5 282.35L370.6 282.9L367.5 283.45ZM367.5 279.8L368.05 282.9L367.5 286L366.95 282.9Z" fill="#f03a5a"/>
<path d="M389.4 264.6L392.5 264.05L395.6 264.6L392.5 265.15ZM392.5 261.5L393.05 264.6L392.5 267.7L391.95 264.6Z" fill="#f03a5a"/>
<path d="M402.9 261.2L406 260.65L409.1 261.2L406 261.75ZM406 258.1L406.55 261.2L406 264.3L405.45 261.2Z" fill="#f03a5a"/>
<path d="M437.9 248.9L441 248.35L444.1 248.9L441 249.45ZM441 245.8L441.55 248.9L441 252L440.45 248.9Z" fill="#f03a5a"/>
<line x1="401.4" y1="283" x2="401.4" y2="288" stroke="#f03a5a" stroke-width="0.8" />
<path d="M310.3 369.6L313.4 369.05L316.5 369.6L313.4 370.15ZM313.4 366.5L313.95 369.6L313.4 372.7L312.85 369.6Z" fill="#4040f0"/>
<path d="M323.3 370.3L326.4 369.75L329.5 370.3L326.4 370.85ZM326.4 367.2L326.95 370.3L326.4 373.4L325.85 370.3Z" fill="#4040f0"/>
<path d="M338.1 381.3L341.2 380.75L344.3 381.3L341.2 381.85ZM341.2 378.2L341.75 381.3L341.2 384.4L340.65 381.3Z" fill="#4040f0"/>
<path d="M364.4 357.2L367.5 356.65L370.6 357.2L367.5 357.75ZM367.5 354.1L368.05 357.2L367.5 360.3L366.95 357.2Z" fill="#4040f0"/>
<path d="M389.4 339.9L392.5 339.35L395.6 339.9L392.5 340.45ZM392.5 336.8L393.05 339.9L392.5 343L391.95 339.9Z" fill="#4040f0"/>
<path d="M397.9 320L401 319.45L404.1 320L401 320.55ZM401 316.9L401.55 320L401 323.1L400.45 320Z" fill="#4040f0"/>
<path d="M402.9 320L406 319.45L409.1 320L406 320.55ZM406 316.9L406.55 320L406 323.1L405.45 320Z" fill="#4040f0"/>
<path d="M437.9 328.9L441 328.35L444.1 328.9L441 329.45ZM441 325.8L441.55 328.9L441 332L440.45 328.9Z" fill="#4040f0"/>
<path d="M495.9 269.3L499 268.75L502.1 269.3L499 269.85ZM499 266.2L499.55 269.3L499 272.4L498.45 269.3Z" fill="#4040f0"/>
<path d="M497.5 270.3L500.6 269.75L503.7 270.3L500.6 270.85ZM500.6 267.2L501.15 270.3L500.6 273.4L500.05 270.3Z" fill="#4040f0"/>
<ellipse cx="313.5" cy="352.9" rx="2.2" ry="1.76" fill="none" stroke="#4646ff" stroke-width="0.85"/>
<ellipse cx="326.6" cy="341" rx="2.2" ry="1.76" fill="none" stroke="#4646ff" stroke-width="0.85"/>
<ellipse cx="341.2" cy="341.3" rx="2.2" ry="1.76" fill="none" stroke="#4646ff" stroke-width="0.85"/>
<ellipse cx="367.5" cy="319.6" rx="2.2" ry="1.76" fill="none" stroke="#4646ff" stroke-width="0.85"/>
<ellipse cx="392.5" cy="302.2" rx="2.2" ry="1.76" fill="none" stroke="#4646ff" stroke-width="0.85"/>
<ellipse cx="401" cy="303" rx="2.2" ry="1.76" fill="none" stroke="#4646ff" stroke-width="0.85"/>
<ellipse cx="406" cy="290.6" rx="2.2" ry="1.76" fill="none" stroke="#4646ff" stroke-width="0.85"/>
<ellipse cx="441" cy="288.7" rx="2.2" ry="1.76" fill="none" stroke="#4646ff" stroke-width="0.85"/>
<ellipse cx="500" cy="253.9" rx="2.2" ry="1.76" fill="none" stroke="#4646ff" stroke-width="0.85"/>
<line x1="313.3" y1="350.8" x2="431.6" y2="286.4" stroke="#ff1a1a" stroke-width="1.6" />
<line x1="431.6" y1="285.6" x2="498.6" y2="249.4" stroke="#ff1a1a" stroke-width="1.6" />
<line x1="296.5" y1="383.5" x2="298.5" y2="383.5" stroke="#999999" stroke-width="1" />
<line x1="516.5" y1="383.5" x2="514.5" y2="383.5" stroke="#999999" stroke-width="1" />
<line x1="296.5" y1="359.7" x2="298.5" y2="359.7" stroke="#999999" stroke-width="1" />
<line x1="516.5" y1="359.7" x2="514.5" y2="359.7" stroke="#999999" stroke-width="1" />
<line x1="296.5" y1="335.9" x2="298.5" y2="335.9" stroke="#999999" stroke-width="1" />
<line x1="516.5" y1="335.9" x2="514.5" y2="335.9" stroke="#999999" stroke-width="1" />
<line x1="296.5" y1="312.1" x2="298.5" y2="312.1" stroke="#999999" stroke-width="1" />
<line x1="516.5" y1="312.1" x2="514.5" y2="312.1" stroke="#999999" stroke-width="1" />
<line x1="296.5" y1="288.3" x2="298.5" y2="288.3" stroke="#999999" stroke-width="1" />
<line x1="516.5" y1="288.3" x2="514.5" y2="288.3" stroke="#999999" stroke-width="1" />
<line x1="296.5" y1="264.5" x2="298.5" y2="264.5" stroke="#999999" stroke-width="1" />
<line x1="516.5" y1="264.5" x2="514.5" y2="264.5" stroke="#999999" stroke-width="1" />
<line x1="296.5" y1="240.7" x2="298.5" y2="240.7" stroke="#999999" stroke-width="1" />
<line x1="516.5" y1="240.7" x2="514.5" y2="240.7" stroke="#999999" stroke-width="1" />
<line x1="296.5" y1="216.9" x2="298.5" y2="216.9" stroke="#999999" stroke-width="1" />
<line x1="516.5" y1="216.9" x2="514.5" y2="216.9" stroke="#999999" stroke-width="1" />
<line x1="296.5" y1="383.5" x2="296.5" y2="381.5" stroke="#999999" stroke-width="1" />
<line x1="296.5" y1="216.9" x2="296.5" y2="218.9" stroke="#999999" stroke-width="1" />
<line x1="340.5" y1="383.5" x2="340.5" y2="381.5" stroke="#999999" stroke-width="1" />
<line x1="340.5" y1="216.9" x2="340.5" y2="218.9" stroke="#999999" stroke-width="1" />
<line x1="384.5" y1="383.5" x2="384.5" y2="381.5" stroke="#999999" stroke-width="1" />
<line x1="384.5" y1="216.9" x2="384.5" y2="218.9" stroke="#999999" stroke-width="1" />
<line x1="428.5" y1="383.5" x2="428.5" y2="381.5" stroke="#999999" stroke-width="1" />
<line x1="428.5" y1="216.9" x2="428.5" y2="218.9" stroke="#999999" stroke-width="1" />
<line x1="472.5" y1="383.5" x2="472.5" y2="381.5" stroke="#999999" stroke-width="1" />
<line x1="472.5" y1="216.9" x2="472.5" y2="218.9" stroke="#999999" stroke-width="1" />
<line x1="516.5" y1="383.5" x2="516.5" y2="381.5" stroke="#999999" stroke-width="1" />
<line x1="516.5" y1="216.9" x2="516.5" y2="218.9" stroke="#999999" stroke-width="1" />
<rect x="296.5" y="216.9" width="220" height="166.6" fill="none" stroke="#999999" stroke-width="1" />
<text x="294" y="386.5" font-size="7.0" text-anchor="end" font-weight="normal" fill="#3a3a3a" font-family="Liberation Sans" >0</text>
<text x="294" y="362.7" font-size="7.0" text-anchor="end" font-weight="normal" fill="#3a3a3a" font-family="Liberation Sans" >500</text>
<text x="294" y="338.9" font-size="7.0" text-anchor="end" font-weight="normal" fill="#3a3a3a" font-family="Liberation Sans" >1000</text>
<text x="294" y="315.1" font-size="7.0" text-anchor="end" font-weight="normal" fill="#3a3a3a" font-family="Liberation Sans" >1500</text>
<text x="294" y="291.3" font-size="7.0" text-anchor="end" font-weight="normal" fill="#3a3a3a" font-family="Liberation Sans" >2000</text>
<text x="294" y="267.5" font-size="7.0" text-anchor="end" font-weight="normal" fill="#3a3a3a" font-family="Liberation Sans" >2500</text>
<text x="294" y="243.7" font-size="7.0" text-anchor="end" font-weight="normal" fill="#3a3a3a" font-family="Liberation Sans" >3000</text>
<text x="294" y="219.9" font-size="7.0" text-anchor="end" font-weight="normal" fill="#3a3a3a" font-family="Liberation Sans" >3500</text>
<text x="296.5" y="393.4" font-size="7.0" text-anchor="middle" font-weight="normal" fill="#3a3a3a" font-family="Liberation Sans" >500</text>
<text x="340.5" y="393.4" font-size="7.0" text-anchor="middle" font-weight="normal" fill="#3a3a3a" font-family="Liberation Sans" >1000</text>
<text x="384.5" y="393.4" font-size="7.0" text-anchor="middle" font-weight="normal" fill="#3a3a3a" font-family="Liberation Sans" >1500</text>
<text x="428.5" y="393.4" font-size="7.0" text-anchor="middle" font-weight="normal" fill="#3a3a3a" font-family="Liberation Sans" >2000</text>
<text x="472.5" y="393.4" font-size="7.0" text-anchor="middle" font-weight="normal" fill="#3a3a3a" font-family="Liberation Sans" >2500</text>
<text x="516.5" y="393.4" font-size="7.0" text-anchor="middle" font-weight="normal" fill="#3a3a3a" font-family="Liberation Sans" >3000</text>
<text x="406.4" y="213.8" font-size="7.2" text-anchor="middle" font-weight="bold" fill="#111" font-family="Liberation Sans" textLength="83.3" lengthAdjust="spacingAndGlyphs" stroke="#111" stroke-width="0.2">Experimental x Previsto</text>
<rect x="413.5" y="222.3" width="96.6" height="25.7" fill="#fff" stroke="#999999" stroke-width="1" />
<rect x="424.4" y="225.4" width="3.2" height="3.2" fill="none" stroke="#4646ff" stroke-width="0.7" />
<path d="M423.1 235.5L426.2 234.95L429.3 235.5L426.2 236.05ZM426.2 232.4L426.75 235.5L426.2 238.6L425.65 235.5Z" fill="#4040f0"/>
<path d="M423.1 243.4L426.2 242.85L429.3 243.4L426.2 243.95ZM426.2 240.3L426.75 243.4L426.2 246.5L425.65 243.4Z" fill="#f03a5a"/>
<text x="437.8" y="229.8" font-size="6.6" text-anchor="start" font-weight="normal" fill="#222" font-family="Liberation Sans" textLength="21.7" lengthAdjust="spacingAndGlyphs">Previsto</text>
<text x="437.8" y="237.8" font-size="6.6" text-anchor="start" font-weight="normal" fill="#222" font-family="Liberation Sans" textLength="70.3" lengthAdjust="spacingAndGlyphs">Previsto para o nivel baixo</text>
<text x="437.8" y="245.8" font-size="6.6" text-anchor="start" font-weight="normal" fill="#222" font-family="Liberation Sans" textLength="65.7" lengthAdjust="spacingAndGlyphs">Previsto para o nivel alto</text>
<ellipse cx="498.2" cy="249.6" rx="2.2" ry="1.76" fill="none" stroke="#4646ff" stroke-width="0.85"/>
<line x1="441" y1="285.6" x2="441" y2="287" stroke="#4646ff" stroke-width="0.7" />
<text x="406.4" y="403" font-size="7.2" text-anchor="middle" font-weight="normal" fill="#333" font-family="Liberation Sans" >Experimental</text>
<text x="274.6" y="300" font-size="7.0" text-anchor="middle" font-weight="normal" fill="#333" font-family="Liberation Sans" transform="rotate(-90 274.6 300)">Previsto</text>
<text x="303.3" y="417.3" font-size="8.1" text-anchor="middle" font-weight="normal" fill="#222" font-family="Liberation Sans" stroke="#222" stroke-width="0.35" textLength="11.7" lengthAdjust="spacingAndGlyphs">(d)</text>
<line x1="555.8" y1="383.5" x2="648.5" y2="383.5" stroke="#f2f2f2" stroke-width="1" />
<line x1="555.8" y1="364.99" x2="648.5" y2="364.99" stroke="#f2f2f2" stroke-width="1" />
<line x1="555.8" y1="346.48" x2="648.5" y2="346.48" stroke="#f2f2f2" stroke-width="1" />
<line x1="555.8" y1="327.97" x2="648.5" y2="327.97" stroke="#f2f2f2" stroke-width="1" />
<line x1="555.8" y1="309.46" x2="648.5" y2="309.46" stroke="#f2f2f2" stroke-width="1" />
<line x1="555.8" y1="290.94" x2="648.5" y2="290.94" stroke="#f2f2f2" stroke-width="1" />
<line x1="555.8" y1="272.43" x2="648.5" y2="272.43" stroke="#f2f2f2" stroke-width="1" />
<line x1="555.8" y1="253.92" x2="648.5" y2="253.92" stroke="#f2f2f2" stroke-width="1" />
<line x1="555.8" y1="235.41" x2="648.5" y2="235.41" stroke="#f2f2f2" stroke-width="1" />
<line x1="555.8" y1="216.9" x2="648.5" y2="216.9" stroke="#f2f2f2" stroke-width="1" />
<line x1="569.44" y1="216.9" x2="569.44" y2="383.5" stroke="#f2f2f2" stroke-width="1" />
<line x1="589.2" y1="216.9" x2="589.2" y2="383.5" stroke="#f2f2f2" stroke-width="1" />
<line x1="608.97" y1="216.9" x2="608.97" y2="383.5" stroke="#f2f2f2" stroke-width="1" />
<line x1="628.73" y1="216.9" x2="628.73" y2="383.5" stroke="#f2f2f2" stroke-width="1" />
<line x1="648.5" y1="216.9" x2="648.5" y2="383.5" stroke="#f2f2f2" stroke-width="1" />
<line x1="555.8" y1="291.2" x2="641" y2="291.2" stroke="#ff1a1a" stroke-width="1.8" />
<rect x="553.95" y="273.15" width="3.7" height="3.7" fill="none" stroke="#f03a5a" stroke-width="0.75" />
<rect x="563.45" y="246.35" width="3.7" height="3.7" fill="none" stroke="#f03a5a" stroke-width="0.75" />
<rect x="563.35" y="309.85" width="3.7" height="3.7" fill="none" stroke="#f03a5a" stroke-width="0.75" />
<rect x="581.15" y="301.05" width="3.7" height="3.7" fill="none" stroke="#f03a5a" stroke-width="0.75" />
<rect x="594.95" y="287.85" width="3.7" height="3.7" fill="none" stroke="#f03a5a" stroke-width="0.75" />
<rect x="595.85" y="333.95" width="3.7" height="3.7" fill="none" stroke="#f03a5a" stroke-width="0.75" />
<rect x="606.15" y="228.05" width="3.7" height="3.7" fill="none" stroke="#f03a5a" stroke-width="0.75" />
<rect x="605.15" y="363.85" width="3.7" height="3.7" fill="none" stroke="#f03a5a" stroke-width="0.75" />
<rect x="635.95" y="255.25" width="3.7" height="3.7" fill="none" stroke="#f03a5a" stroke-width="0.75" />
<rect x="639.15" y="291.15" width="3.7" height="3.7" fill="none" stroke="#f03a5a" stroke-width="0.75" />
<line x1="555.8" y1="383.5" x2="557.8" y2="383.5" stroke="#999999" stroke-width="1" />
<line x1="648.5" y1="383.5" x2="646.5" y2="383.5" stroke="#999999" stroke-width="1" />
<line x1="555.8" y1="364.99" x2="557.8" y2="364.99" stroke="#999999" stroke-width="1" />
<line x1="648.5" y1="364.99" x2="646.5" y2="364.99" stroke="#999999" stroke-width="1" />
<line x1="555.8" y1="346.48" x2="557.8" y2="346.48" stroke="#999999" stroke-width="1" />
<line x1="648.5" y1="346.48" x2="646.5" y2="346.48" stroke="#999999" stroke-width="1" />
<line x1="555.8" y1="327.97" x2="557.8" y2="327.97" stroke="#999999" stroke-width="1" />
<line x1="648.5" y1="327.97" x2="646.5" y2="327.97" stroke="#999999" stroke-width="1" />
<line x1="555.8" y1="309.46" x2="557.8" y2="309.46" stroke="#999999" stroke-width="1" />
<line x1="648.5" y1="309.46" x2="646.5" y2="309.46" stroke="#999999" stroke-width="1" />
<line x1="555.8" y1="290.94" x2="557.8" y2="290.94" stroke="#999999" stroke-width="1" />
<line x1="648.5" y1="290.94" x2="646.5" y2="290.94" stroke="#999999" stroke-width="1" />
<line x1="555.8" y1="272.43" x2="557.8" y2="272.43" stroke="#999999" stroke-width="1" />
<line x1="648.5" y1="272.43" x2="646.5" y2="272.43" stroke="#999999" stroke-width="1" />
<line x1="555.8" y1="253.92" x2="557.8" y2="253.92" stroke="#999999" stroke-width="1" />
<line x1="648.5" y1="253.92" x2="646.5" y2="253.92" stroke="#999999" stroke-width="1" />
<line x1="555.8" y1="235.41" x2="557.8" y2="235.41" stroke="#999999" stroke-width="1" />
<line x1="648.5" y1="235.41" x2="646.5" y2="235.41" stroke="#999999" stroke-width="1" />
<line x1="555.8" y1="216.9" x2="557.8" y2="216.9" stroke="#999999" stroke-width="1" />
<line x1="648.5" y1="216.9" x2="646.5" y2="216.9" stroke="#999999" stroke-width="1" />
<line x1="569.44" y1="383.5" x2="569.44" y2="381.5" stroke="#999999" stroke-width="1" />
<line x1="569.44" y1="216.9" x2="569.44" y2="218.9" stroke="#999999" stroke-width="1" />
<line x1="589.2" y1="383.5" x2="589.2" y2="381.5" stroke="#999999" stroke-width="1" />
<line x1="589.2" y1="216.9" x2="589.2" y2="218.9" stroke="#999999" stroke-width="1" />
<line x1="608.97" y1="383.5" x2="608.97" y2="381.5" stroke="#999999" stroke-width="1" />
<line x1="608.97" y1="216.9" x2="608.97" y2="218.9" stroke="#999999" stroke-width="1" />
<line x1="628.73" y1="383.5" x2="628.73" y2="381.5" stroke="#999999" stroke-width="1" />
<line x1="628.73" y1="216.9" x2="628.73" y2="218.9" stroke="#999999" stroke-width="1" />
<line x1="648.5" y1="383.5" x2="648.5" y2="381.5" stroke="#999999" stroke-width="1" />
<line x1="648.5" y1="216.9" x2="648.5" y2="218.9" stroke="#999999" stroke-width="1" />
<rect x="555.8" y="216.9" width="92.7" height="166.6" fill="none" stroke="#999999" stroke-width="1" />
<text x="553.2" y="386.4" font-size="6.0" text-anchor="end" font-weight="normal" fill="#3a3a3a" font-family="Liberation Sans" textLength="12.41" lengthAdjust="spacingAndGlyphs">-250</text>
<text x="553.2" y="367.89" font-size="6.0" text-anchor="end" font-weight="normal" fill="#3a3a3a" font-family="Liberation Sans" textLength="12.41" lengthAdjust="spacingAndGlyphs">-200</text>
<text x="553.2" y="349.38" font-size="6.0" text-anchor="end" font-weight="normal" fill="#3a3a3a" font-family="Liberation Sans" textLength="12.41" lengthAdjust="spacingAndGlyphs">-150</text>
<text x="553.2" y="330.87" font-size="6.0" text-anchor="end" font-weight="normal" fill="#3a3a3a" font-family="Liberation Sans" textLength="12.41" lengthAdjust="spacingAndGlyphs">-100</text>
<text x="553.2" y="312.36" font-size="6.0" text-anchor="end" font-weight="normal" fill="#3a3a3a" font-family="Liberation Sans" textLength="8.96" lengthAdjust="spacingAndGlyphs">-50</text>
<text x="553.2" y="293.84" font-size="6.0" text-anchor="end" font-weight="normal" fill="#3a3a3a" font-family="Liberation Sans" textLength="3.45" lengthAdjust="spacingAndGlyphs">0</text>
<text x="553.2" y="275.33" font-size="6.0" text-anchor="end" font-weight="normal" fill="#3a3a3a" font-family="Liberation Sans" textLength="6.9" lengthAdjust="spacingAndGlyphs">50</text>
<text x="553.2" y="256.82" font-size="6.0" text-anchor="end" font-weight="normal" fill="#3a3a3a" font-family="Liberation Sans" textLength="10.34" lengthAdjust="spacingAndGlyphs">100</text>
<text x="553.2" y="238.31" font-size="6.0" text-anchor="end" font-weight="normal" fill="#3a3a3a" font-family="Liberation Sans" textLength="10.34" lengthAdjust="spacingAndGlyphs">150</text>
<text x="553.2" y="219.8" font-size="6.0" text-anchor="end" font-weight="normal" fill="#3a3a3a" font-family="Liberation Sans" textLength="10.34" lengthAdjust="spacingAndGlyphs">200</text>
<text x="569.44" y="392.3" font-size="6.6" text-anchor="middle" font-weight="normal" fill="#3a3a3a" font-family="Liberation Sans" >1000</text>
<text x="589.2" y="392.3" font-size="6.6" text-anchor="middle" font-weight="normal" fill="#3a3a3a" font-family="Liberation Sans" >1500</text>
<text x="608.97" y="392.3" font-size="6.6" text-anchor="middle" font-weight="normal" fill="#3a3a3a" font-family="Liberation Sans" >2000</text>
<text x="628.73" y="392.3" font-size="6.6" text-anchor="middle" font-weight="normal" fill="#3a3a3a" font-family="Liberation Sans" >2500</text>
<text x="648.5" y="392.3" font-size="6.6" text-anchor="middle" font-weight="normal" fill="#3a3a3a" font-family="Liberation Sans" >3000</text>
<text x="602" y="215" font-size="6.6" text-anchor="middle" font-weight="bold" fill="#111" font-family="Liberation Sans" textLength="59.4" lengthAdjust="spacingAndGlyphs" stroke="#111" stroke-width="0.2">Previsto x Residuo</text>
<text x="602" y="400.6" font-size="6.6" text-anchor="middle" font-weight="normal" fill="#333" font-family="Liberation Sans" >Previsto</text>
<text x="538" y="300" font-size="6.6" text-anchor="middle" font-weight="normal" fill="#333" font-family="Liberation Sans" transform="rotate(-90 538 300)">Residuo</text>
<text x="578.5" y="417.4" font-size="8.1" text-anchor="middle" font-weight="normal" fill="#222" font-family="Liberation Sans" stroke="#222" stroke-width="0.35" textLength="10.9" lengthAdjust="spacingAndGlyphs">(e)</text>
<line x1="680" y1="383.5" x2="682" y2="383.5" stroke="#999999" stroke-width="1" />
<line x1="773.7" y1="383.5" x2="771.7" y2="383.5" stroke="#999999" stroke-width="1" />
<line x1="680" y1="366.84" x2="682" y2="366.84" stroke="#999999" stroke-width="1" />
<line x1="773.7" y1="366.84" x2="771.7" y2="366.84" stroke="#999999" stroke-width="1" />
<line x1="680" y1="350.18" x2="682" y2="350.18" stroke="#999999" stroke-width="1" />
<line x1="773.7" y1="350.18" x2="771.7" y2="350.18" stroke="#999999" stroke-width="1" />
<line x1="680" y1="333.52" x2="682" y2="333.52" stroke="#999999" stroke-width="1" />
<line x1="773.7" y1="333.52" x2="771.7" y2="333.52" stroke="#999999" stroke-width="1" />
<line x1="680" y1="316.86" x2="682" y2="316.86" stroke="#999999" stroke-width="1" />
<line x1="773.7" y1="316.86" x2="771.7" y2="316.86" stroke="#999999" stroke-width="1" />
<line x1="680" y1="300.2" x2="682" y2="300.2" stroke="#999999" stroke-width="1" />
<line x1="773.7" y1="300.2" x2="771.7" y2="300.2" stroke="#999999" stroke-width="1" />
<line x1="680" y1="283.54" x2="682" y2="283.54" stroke="#999999" stroke-width="1" />
<line x1="773.7" y1="283.54" x2="771.7" y2="283.54" stroke="#999999" stroke-width="1" />
<line x1="680" y1="266.88" x2="682" y2="266.88" stroke="#999999" stroke-width="1" />
<line x1="773.7" y1="266.88" x2="771.7" y2="266.88" stroke="#999999" stroke-width="1" />
<line x1="680" y1="250.22" x2="682" y2="250.22" stroke="#999999" stroke-width="1" />
<line x1="773.7" y1="250.22" x2="771.7" y2="250.22" stroke="#999999" stroke-width="1" />
<line x1="680" y1="233.56" x2="682" y2="233.56" stroke="#999999" stroke-width="1" />
<line x1="773.7" y1="233.56" x2="771.7" y2="233.56" stroke="#999999" stroke-width="1" />
<line x1="680" y1="216.9" x2="682" y2="216.9" stroke="#999999" stroke-width="1" />
<line x1="773.7" y1="216.9" x2="771.7" y2="216.9" stroke="#999999" stroke-width="1" />
<line x1="680" y1="383.5" x2="680" y2="381.5" stroke="#999999" stroke-width="1" />
<line x1="680" y1="216.9" x2="680" y2="218.9" stroke="#999999" stroke-width="1" />
<line x1="703.42" y1="383.5" x2="703.42" y2="381.5" stroke="#999999" stroke-width="1" />
<line x1="703.42" y1="216.9" x2="703.42" y2="218.9" stroke="#999999" stroke-width="1" />
<line x1="726.85" y1="383.5" x2="726.85" y2="381.5" stroke="#999999" stroke-width="1" />
<line x1="726.85" y1="216.9" x2="726.85" y2="218.9" stroke="#999999" stroke-width="1" />
<line x1="750.28" y1="383.5" x2="750.28" y2="381.5" stroke="#999999" stroke-width="1" />
<line x1="750.28" y1="216.9" x2="750.28" y2="218.9" stroke="#999999" stroke-width="1" />
<line x1="773.7" y1="383.5" x2="773.7" y2="381.5" stroke="#999999" stroke-width="1" />
<line x1="773.7" y1="216.9" x2="773.7" y2="218.9" stroke="#999999" stroke-width="1" />
<rect x="680" y="216.9" width="93.7" height="166.6" fill="none" stroke="#999999" stroke-width="1" />
<rect x="680" y="300.2" width="8.47" height="83.3" fill="#3a20c4" stroke="#1c1060" stroke-width="0.5" />
<rect x="696.94" y="300.2" width="8.47" height="83.3" fill="#3a20c4" stroke="#1c1060" stroke-width="0.5" />
<rect x="705.41" y="300.2" width="8.47" height="83.3" fill="#3a20c4" stroke="#1c1060" stroke-width="0.5" />
<rect x="713.88" y="300.2" width="8.47" height="83.3" fill="#3a20c4" stroke="#1c1060" stroke-width="0.5" />
<rect x="722.35" y="216.9" width="8.47" height="166.6" fill="#3a20c4" stroke="#1c1060" stroke-width="0.5" />
<rect x="730.82" y="300.2" width="8.47" height="83.3" fill="#3a20c4" stroke="#1c1060" stroke-width="0.5" />
<rect x="747.76" y="216.9" width="8.47" height="166.6" fill="#3a20c4" stroke="#1c1060" stroke-width="0.5" />
<rect x="756.23" y="300.2" width="8.47" height="83.3" fill="#3a20c4" stroke="#1c1060" stroke-width="0.5" />
<text x="678" y="386.3" font-size="5.9" text-anchor="end" font-weight="normal" fill="#3a3a3a" font-family="Liberation Sans" textLength="3.34" lengthAdjust="spacingAndGlyphs">0</text>
<text x="678" y="369.64" font-size="5.9" text-anchor="end" font-weight="normal" fill="#3a3a3a" font-family="Liberation Sans" textLength="8.34" lengthAdjust="spacingAndGlyphs">0.2</text>
<text x="678" y="352.98" font-size="5.9" text-anchor="end" font-weight="normal" fill="#3a3a3a" font-family="Liberation Sans" textLength="8.34" lengthAdjust="spacingAndGlyphs">0.4</text>
<text x="678" y="336.32" font-size="5.9" text-anchor="end" font-weight="normal" fill="#3a3a3a" font-family="Liberation Sans" textLength="8.34" lengthAdjust="spacingAndGlyphs">0.6</text>
<text x="678" y="319.66" font-size="5.9" text-anchor="end" font-weight="normal" fill="#3a3a3a" font-family="Liberation Sans" textLength="8.34" lengthAdjust="spacingAndGlyphs">0.8</text>
<text x="678" y="303" font-size="5.9" text-anchor="end" font-weight="normal" fill="#3a3a3a" font-family="Liberation Sans" textLength="3.34" lengthAdjust="spacingAndGlyphs">1</text>
<text x="678" y="286.34" font-size="5.9" text-anchor="end" font-weight="normal" fill="#3a3a3a" font-family="Liberation Sans" textLength="8.34" lengthAdjust="spacingAndGlyphs">1.2</text>
<text x="678" y="269.68" font-size="5.9" text-anchor="end" font-weight="normal" fill="#3a3a3a" font-family="Liberation Sans" textLength="8.34" lengthAdjust="spacingAndGlyphs">1.4</text>
<text x="678" y="253.02" font-size="5.9" text-anchor="end" font-weight="normal" fill="#3a3a3a" font-family="Liberation Sans" textLength="8.34" lengthAdjust="spacingAndGlyphs">1.6</text>
<text x="678" y="236.36" font-size="5.9" text-anchor="end" font-weight="normal" fill="#3a3a3a" font-family="Liberation Sans" textLength="8.34" lengthAdjust="spacingAndGlyphs">1.8</text>
<text x="678" y="219.7" font-size="5.9" text-anchor="end" font-weight="normal" fill="#3a3a3a" font-family="Liberation Sans" textLength="3.34" lengthAdjust="spacingAndGlyphs">2</text>
<text x="680" y="392.4" font-size="6.6" text-anchor="middle" font-weight="normal" fill="#3a3a3a" font-family="Liberation Sans" textLength="11.81" lengthAdjust="spacingAndGlyphs">-200</text>
<text x="703.42" y="392.4" font-size="6.6" text-anchor="middle" font-weight="normal" fill="#3a3a3a" font-family="Liberation Sans" textLength="11.81" lengthAdjust="spacingAndGlyphs">-100</text>
<text x="726.85" y="392.4" font-size="6.6" text-anchor="middle" font-weight="normal" fill="#3a3a3a" font-family="Liberation Sans" textLength="3.28" lengthAdjust="spacingAndGlyphs">0</text>
<text x="750.28" y="392.4" font-size="6.6" text-anchor="middle" font-weight="normal" fill="#3a3a3a" font-family="Liberation Sans" textLength="9.84" lengthAdjust="spacingAndGlyphs">100</text>
<text x="773.7" y="392.4" font-size="6.6" text-anchor="middle" font-weight="normal" fill="#3a3a3a" font-family="Liberation Sans" textLength="9.84" lengthAdjust="spacingAndGlyphs">200</text>
<text x="726.2" y="215" font-size="6.6" text-anchor="middle" font-weight="bold" fill="#111" font-family="Liberation Sans" textLength="79.5" lengthAdjust="spacingAndGlyphs" stroke="#111" stroke-width="0.2">Histograma dos residuos</text>
<text x="726.6" y="401" font-size="6.6" text-anchor="middle" font-weight="normal" fill="#333" font-family="Liberation Sans" >Residuos</text>
<text x="667" y="300.7" font-size="6.6" text-anchor="middle" font-weight="normal" fill="#333" font-family="Liberation Sans" transform="rotate(-90 667 300.7)">Frequencia</text>
</svg></body></html>
